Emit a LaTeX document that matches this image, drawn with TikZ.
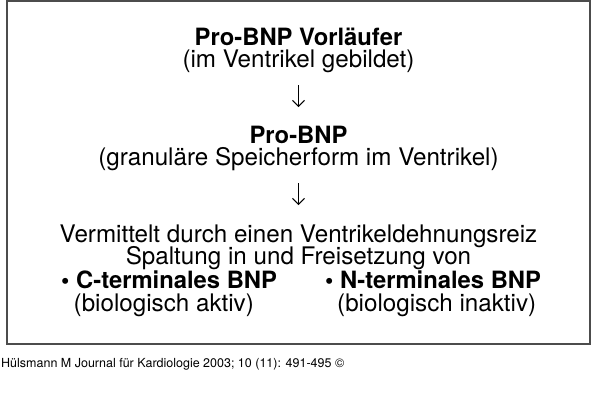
\documentclass[tikz,border=0pt]{standalone}
\usepackage{fontspec}
\setmainfont{TeX Gyre Heros}
\usetikzlibrary{arrows.meta}
\tikzset{
  zeile/.style={anchor=base,inner sep=0pt,font=\fontsize{24.2}{26}\selectfont},
  fett/.style={zeile,font=\fontsize{23.8}{26}\selectfont\bfseries},
  punkt/.style={fett,anchor=base west},
  klammer/.style={zeile,anchor=base west},
  pfeil/.style={line width=1pt,-{Straight Barb[length=6pt,width=12pt]}},
}
\begin{document}
\begin{tikzpicture}[x=1pt,y=-1pt] % ------ Bildung von BNP ----------------
    \useasboundingbox (0,0) rectangle (600,413);
    \draw [gray!60!black,line width=1.2pt] (7,1) rectangle (590,344);
    \node [fett] (vorl) at (298.5,45) {Pro-BNP Vorläufer};
    \node [zeile] (vorlort) at (298.5,67) {(im Ventrikel gebildet)};
    \coordinate (p1o) at (298.5,85);
    \coordinate (p1u) at (298.5,107);
    \draw [pfeil] (p1o) -- (p1u);
    \node [fett] (pro) at (298.5,143) {Pro-BNP};
    \node [zeile] (proort) at (298.5,165) {(granuläre Speicherform im Ventrikel)};
    \coordinate (p2o) at (298.5,183);
    \coordinate (p2u) at (298.5,205);
    \draw [pfeil] (p2o) -- (p2u);
    \node [zeile] (reiz) at (298.5,242) {Vermittelt durch einen Ventrikeldehnungsreiz};
    \node [zeile] (spalt) at (298.5,264) {Spaltung in und Freisetzung von};
    \node [punkt] (cbnp) at (61,288) {\textbullet\ C-terminales BNP};
    \node [klammer] (cakt) at (73.5,311) {(biologisch aktiv)};
    \node [punkt] (nbnp) at (325,288) {\textbullet\ N-terminales BNP};
    \node [klammer] (ninakt) at (337,311) {(biologisch inaktiv)};
    \node [anchor=base west,inner sep=0pt,font=\fontsize{12.5}{14}\selectfont] (quelle) at (1,367)
      {Hülsmann M Journal für Kardiologie 2003; 10 (11): 491-495 ©};
\end{tikzpicture}
\end{document}
